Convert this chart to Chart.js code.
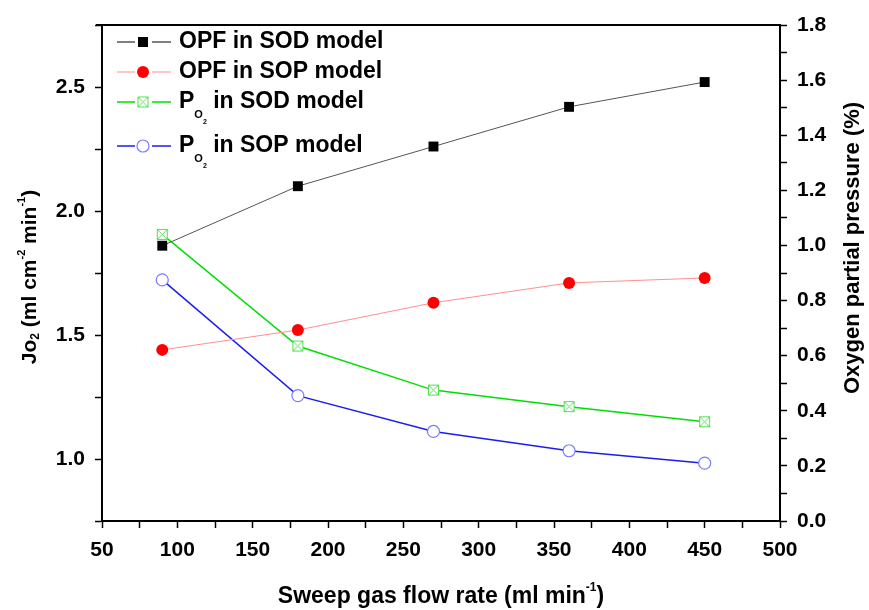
<!DOCTYPE html>
<html>
<head>
<meta charset="utf-8">
<script src="https://cdn.jsdelivr.net/npm/chart.js@4.4.0/dist/chart.umd.min.js"></script>
<style>
  html, body { margin: 0; padding: 0; background: #fff; }
  #wrap { width: 869px; height: 610px; }
</style>
</head>
<body>
<div id="wrap"><canvas id="c" width="869" height="610"></canvas></div>
<script>
// sweep gas flow rate (ml/min)
const flowRates = [90, 180, 270, 360, 450];
// oxygen permeation flux, left axis
const opfSod = [1.86, 2.10, 2.26, 2.42, 2.52];
const opfSop = [1.44, 1.52, 1.63, 1.71, 1.73];
// oxygen partial pressure, right axis
const po2Sod = [1.04, 0.635, 0.475, 0.415, 0.36];
const po2Sop = [0.875, 0.455, 0.325, 0.255, 0.21];

const xRange = [50, 500];
const leftRange = [0.75, 2.75];
const rightRange = [0, 1.8];

const FONT = "'Liberation Sans', Arial, sans-serif";

function pts(ys) {
    return flowRates.map((x, i) => ({ x: x, y: ys[i] }));
}

function crossBox(color) {
    const c = document.createElement('canvas');
    c.width = 13; c.height = 13;
    const g = c.getContext('2d');
    g.fillStyle = '#fff';
    g.fillRect(1, 1, 11, 11);
    g.strokeStyle = color;
    g.lineWidth = 1;
    g.strokeRect(1.5, 1.5, 10, 10);
    g.beginPath();
    g.moveTo(2, 2); g.lineTo(11, 11);
    g.moveTo(11, 2); g.lineTo(2, 11);
    g.stroke();
    return c;
}
const greenBox = crossBox('#55e055');

// draws a run of text pieces with sub/superscripts, centred on x
function drawRich(ctx, parts, x, y) {
    let w = 0;
    parts.forEach(p => {
        ctx.font = 'bold ' + p.size + 'px ' + FONT;
        p.w = ctx.measureText(p.t).width;
        w += p.w;
    });
    let cx = x - w / 2;
    ctx.textAlign = 'left';
    ctx.textBaseline = 'middle';
    parts.forEach(p => {
        ctx.font = 'bold ' + p.size + 'px ' + FONT;
        ctx.fillText(p.t, cx, y + (p.dy || 0));
        cx += p.w;
    });
    return w;
}

function textWidth(ctx, parts) {
    let w = 0;
    parts.forEach(p => { ctx.font = 'bold ' + p.size + 'px ' + FONT; w += ctx.measureText(p.t).width; });
    return w;
}

const legendItems = [
    { line: '#000', mark: 'square', y: 42, text: [{ t: 'OPF in SOD model', size: 23 }] },
    { line: '#ff8f8f', mark: 'dot', y: 72, text: [{ t: 'OPF in SOP model', size: 23 }] },
    { line: '#00e000', mark: 'box', y: 102, text: [{ t: 'P', size: 23 }, { t: 'O', size: 11, dy: 13 }, { t: '2', size: 7, dy: 20 }, { t: ' in SOD model', size: 23 }] },
    { line: '#1c1cf0', mark: 'ring', y: 146, text: [{ t: 'P', size: 23 }, { t: 'O', size: 11, dy: 13 }, { t: '2', size: 7, dy: 20 }, { t: ' in SOP model', size: 23 }] }
];

function drawMark(ctx, kind, x, y) {
    ctx.save();
    if (kind === 'square') {
        ctx.fillStyle = '#000';
        ctx.fillRect(x - 5, y - 5, 10, 10);
    } else if (kind === 'dot') {
        ctx.fillStyle = '#ff0000';
        ctx.beginPath(); ctx.arc(x, y, 6, 0, Math.PI * 2); ctx.fill();
    } else if (kind === 'box') {
        ctx.drawImage(greenBox, x - 6.5, y - 6.5);
    } else {
        ctx.strokeStyle = '#7b7bff';
        ctx.lineWidth = 1.2;
        ctx.fillStyle = '#fff';
        ctx.beginPath(); ctx.arc(x, y, 6, 0, Math.PI * 2); ctx.fill(); ctx.stroke();
    }
    ctx.restore();
}

const decorPlugin = {
    id: 'decor',
    afterDraw(chart) {
        const ctx = chart.ctx;
        const a = chart.chartArea;
        ctx.save();
        // top frame line
        ctx.strokeStyle = '#000';
        ctx.lineWidth = 2;
        ctx.beginPath();
        ctx.moveTo(a.left - 6, a.top);
        ctx.lineTo(a.right + 1, a.top);
        ctx.stroke();

        ctx.fillStyle = '#000';
        // left title
        ctx.save();
        ctx.translate(30, 277);
        ctx.rotate(-Math.PI / 2);
        drawRich(ctx, [
            { t: 'Jo', size: 21 }, { t: '2', size: 12, dy: 6 },
            { t: ' (ml cm', size: 21 }, { t: '-2', size: 11, dy: -8 },
            { t: ' min', size: 21 }, { t: '-1', size: 11, dy: -8 },
            { t: ')', size: 21 }
        ], 0, 0);
        ctx.restore();
        // right title
        ctx.save();
        ctx.translate(853, 248);
        ctx.rotate(-Math.PI / 2);
        drawRich(ctx, [{ t: 'Oxygen partial pressure (%)', size: 22 }], 0, 0);
        ctx.restore();
        // bottom title
        drawRich(ctx, [
            { t: 'Sweep gas flow rate (ml min', size: 23 },
            { t: '-1', size: 12, dy: -9 },
            { t: ')', size: 23 }
        ], (a.left + a.right) / 2, 597);

        // legend
        legendItems.forEach(it => {
            ctx.strokeStyle = it.line;
            ctx.lineWidth = it.mark === 'square' || it.mark === 'dot' ? 1 : 1.5;
            ctx.beginPath();
            ctx.moveTo(117, it.y); ctx.lineTo(135, it.y);
            ctx.moveTo(152, it.y); ctx.lineTo(171, it.y);
            ctx.stroke();
            drawMark(ctx, it.mark, 143, it.y);
            ctx.fillStyle = '#000';
            const w = textWidth(ctx, it.text);
            drawRich(ctx, it.text, 179 + w / 2, it.y);
        });
        ctx.restore();
    }
};

const tickFont = { family: FONT, size: 21, weight: 'bold' };
const axisGrid = { drawOnChartArea: false, drawTicks: true, tickLength: 7, tickColor: '#000', tickWidth: 1.5 };
const axisBorder = { display: true, color: '#000', width: 2 };

new Chart(document.getElementById('c').getContext('2d'), {
    type: 'line',
    data: {
        datasets: [
            {
                label: 'OPF in SOD model', data: pts(opfSod), yAxisID: 'y',
                borderColor: '#555', borderWidth: 1, pointStyle: 'rect', pointRadius: 7,
                pointBackgroundColor: '#000', pointBorderColor: '#000', pointBorderWidth: 0
            },
            {
                label: 'OPF in SOP model', data: pts(opfSop), yAxisID: 'y',
                borderColor: '#ff8f8f', borderWidth: 1, pointStyle: 'circle', pointRadius: 6,
                pointBackgroundColor: '#ff0000', pointBorderColor: '#ff0000', pointBorderWidth: 0
            },
            {
                label: 'PO2 in SOD model', data: pts(po2Sod), yAxisID: 'y1',
                borderColor: '#00e000', borderWidth: 1.5, pointStyle: greenBox, pointRadius: 6
            },
            {
                label: 'PO2 in SOP model', data: pts(po2Sop), yAxisID: 'y1',
                borderColor: '#1c1cf0', borderWidth: 1.5, pointStyle: 'circle', pointRadius: 6,
                pointBackgroundColor: '#fff', pointBorderColor: '#7b7bff', pointBorderWidth: 1.2
            }
        ]
    },
    options: {
        responsive: false,
        animation: false,
        devicePixelRatio: 1,
        layout: { padding: { top: 25, left: 0, right: 0, bottom: 0 } },
        plugins: { legend: { display: false }, tooltip: { enabled: false } },
        scales: {
            x: {
                type: 'linear', min: xRange[0], max: xRange[1],
                grid: axisGrid, border: axisBorder,
                ticks: {
                    stepSize: 25, padding: 10, color: '#000', font: tickFont, maxRotation: 0,
                    autoSkip: false,
                    callback: v => (v % 50 === 0 ? String(v) : '')
                },
                afterFit: s => { s.height = 89; }
            },
            y: {
                position: 'left', min: leftRange[0], max: leftRange[1],
                grid: axisGrid, border: axisBorder,
                ticks: {
                    stepSize: 0.25, padding: 10, color: '#000', font: tickFont, autoSkip: false,
                    callback: v => (Math.abs(v * 2 - Math.round(v * 2)) < 1e-6 ? v.toFixed(1) : '')
                },
                afterFit: s => { s.width = 102; }
            },
            y1: {
                position: 'right', min: rightRange[0], max: rightRange[1],
                grid: axisGrid, border: axisBorder,
                ticks: {
                    stepSize: 0.1, padding: 10, color: '#000', font: tickFont, autoSkip: false,
                    callback: v => (Math.round(v * 10) % 2 === 0 ? v.toFixed(1) : '')
                },
                afterFit: s => { s.width = 89; }
            }
        }
    },
    plugins: [decorPlugin]
});
</script>
</body>
</html>
